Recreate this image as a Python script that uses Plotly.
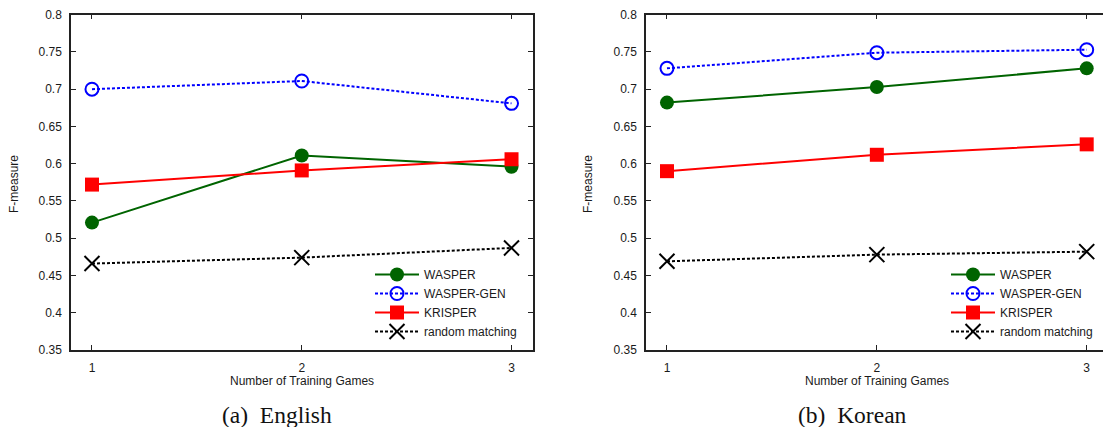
import plotly.graph_objects as go

W, H = 1103, 427

games = [1, 2, 3]
x_tick_labels = ["1", "2", "3"]
y_tick_vals = [0.35, 0.4, 0.45, 0.5, 0.55, 0.6, 0.65, 0.7, 0.75, 0.8]
y_tick_labels = ["0.35", "0.4", "0.45", "0.5", "0.55", "0.6", "0.65", "0.7", "0.75", "0.8"]

series_names = ["WASPER", "WASPER-GEN", "KRISPER", "random matching"]

# (a) English
en_wasper = [0.521, 0.611, 0.596]
en_wasper_gen = [0.700, 0.711, 0.681]
en_krisper = [0.572, 0.591, 0.606]
en_random = [0.466, 0.474, 0.487]

# (b) Korean
ko_wasper = [0.682, 0.703, 0.728]
ko_wasper_gen = [0.728, 0.749, 0.753]
ko_krisper = [0.590, 0.612, 0.626]
ko_random = [0.469, 0.478, 0.482]

styles = [
    dict(color="#006400", dash="solid", symbol="circle", size=14, lw=0),
    dict(color="#0000ff", dash="3px,2px", symbol="circle-open", size=13, lw=2),
    dict(color="#ff0000", dash="solid", symbol="square", size=14, lw=0),
    dict(color="#000000", dash="3px,2px", symbol="x-thin-open", size=15, lw=2),
]

FONT = "Liberation Sans, Arial, sans-serif"
TXT = "#1a1a1a"

fig = go.Figure()

panels = [
    ("x", "y", "legend", [en_wasper, en_wasper_gen, en_krisper, en_random]),
    ("x2", "y2", "legend2", [ko_wasper, ko_wasper_gen, ko_krisper, ko_random]),
]

for xa, ya, lg, data in panels:
    for name, vals, st in zip(series_names, data, styles):
        fig.add_trace(go.Scatter(
            x=games, y=vals, name=name, xaxis=xa, yaxis=ya, legend=lg,
            mode="lines+markers",
            line=dict(color=st["color"], width=2, dash=st["dash"]),
            marker=dict(symbol=st["symbol"], size=st["size"], color=st["color"],
                        line=dict(color=st["color"], width=st["lw"])),
            cliponaxis=False,
        ))

def px_x(p):
    return p / W

def px_y(p):
    return 1 - p / H

y_dom = [px_y(350), px_y(14.7)]

axis_common = dict(
    showgrid=False, zeroline=False, showline=True, linecolor="#222", linewidth=1.5,
    ticks="inside", ticklen=5, tickwidth=1, tickcolor="#222", automargin=False,
    tickfont=dict(family=FONT, size=12, color=TXT),
)

fig.update_layout(
    template="none",
    width=W, height=H,
    margin=dict(l=0, r=0, t=0, b=0, pad=0, autoexpand=False),
    paper_bgcolor="white", plot_bgcolor="white",
    showlegend=True,
    xaxis=dict(domain=[px_x(71), px_x(532.5)], range=[0.9, 3.1], tickvals=games,
               ticktext=x_tick_labels, mirror="allticks", anchor="y",
               ticklabelstandoff=6, **axis_common),
    yaxis=dict(domain=y_dom, range=[0.35, 0.8], tickvals=y_tick_vals,
               ticktext=y_tick_labels, mirror="allticks", anchor="x",
               ticklabelstandoff=5, **axis_common),
    xaxis2=dict(domain=[px_x(646), 1.0], range=[0.9, 3 + (W - 1086.7) / 209.8],
                tickvals=games, ticktext=x_tick_labels, mirror="allticks", anchor="y2",
                ticklabelstandoff=6, **axis_common),
    yaxis2=dict(domain=y_dom, range=[0.35, 0.8], tickvals=y_tick_vals,
                ticktext=y_tick_labels, mirror=False, anchor="x2",
                ticklabelstandoff=5, **axis_common),
    legend=dict(x=px_x(522), y=px_y(346), xanchor="right", yanchor="bottom",
                bgcolor="rgba(0,0,0,0)", font=dict(family=FONT, size=12, color=TXT),
                itemwidth=44, tracegroupgap=0),
    legend2=dict(x=px_x(1098), y=px_y(346), xanchor="right", yanchor="bottom",
                 bgcolor="rgba(0,0,0,0)", font=dict(family=FONT, size=12, color=TXT),
                 itemwidth=44, tracegroupgap=0),
)

annotations = [
    dict(text="F-measure", x=px_x(14), y=px_y(184), textangle=-90),
    dict(text="F-measure", x=px_x(588), y=px_y(184), textangle=-90),
    dict(text="Number of Training Games", x=px_x(302), y=px_y(381)),
    dict(text="Number of Training Games", x=px_x(877), y=px_y(381)),
]
for a in annotations:
    fig.add_annotation(xref="paper", yref="paper", showarrow=False,
                       xanchor="center", yanchor="middle",
                       font=dict(family=FONT, size=12, color=TXT), **a)

captions = [("(a)\u00a0\u00a0English", 277), ("(b)\u00a0\u00a0Korean", 852)]
for text, cx in captions:
    fig.add_annotation(xref="paper", yref="paper", showarrow=False,
                       x=px_x(cx), y=px_y(415), xanchor="center", yanchor="middle",
                       text=text,
                       font=dict(family="Liberation Serif, Times New Roman, serif",
                                 size=23.5, color="#111"))

fig.write_html("out.html", config={"displayModeBar": False},
               post_script="document.body.style.margin='0';document.body.style.overflow='hidden';")
